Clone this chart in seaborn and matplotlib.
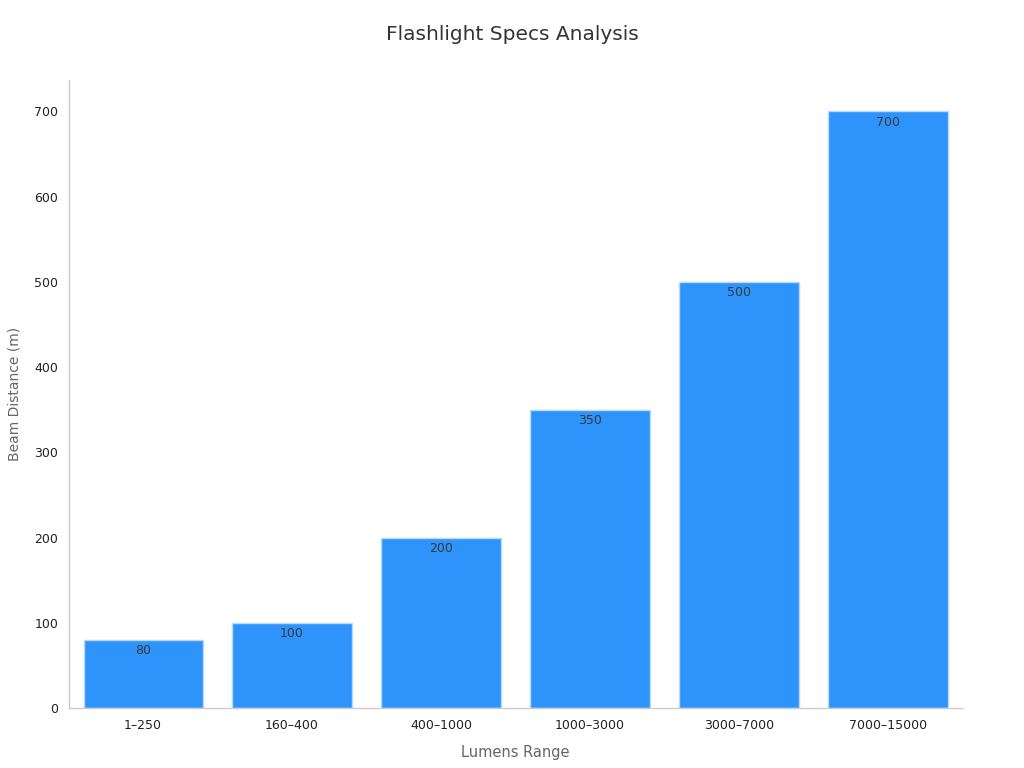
import matplotlib
matplotlib.use("Agg")
import matplotlib.pyplot as plt
import seaborn as sns
import pandas as pd

categories = ["1–250", "160–400", "400–1000", "1000–3000", "3000–7000", "7000–15000"]
beam_distance = [80, 100, 200, 350, 500, 700]

sns.set_theme(style="white")
plt.rcParams['font.family'] = ['DejaVu Sans']

df = pd.DataFrame({"Lumens Range": categories, "Beam Distance (m)": beam_distance})

fig = plt.figure(figsize=(10.24, 7.68), dpi=100)
ax = fig.add_axes([0.067, 0.078, 0.873, 0.818])
sns.barplot(data=df, x="Lumens Range", y="Beam Distance (m)", color="#2E93FA",
            saturation=1, width=0.8, edgecolor="#B5DAFB", linewidth=1, ax=ax)

for i, v in enumerate(beam_distance):
    ax.annotate(f"{v}", (i, v), xytext=(0, -3), textcoords="offset points",
                ha="center", va="top", fontsize=9, color="#3A3A3A")

ax.set_xlim(-0.5, 5.5)
ax.set_ylim(0, 737)
ax.set_yticks([0, 100, 200, 300, 400, 500, 600, 700])
ax.tick_params(axis="both", labelsize=9, colors="#222222", length=4, width=1)
ax.tick_params(axis="both", color="#888888")
for s in ["top", "right"]:
    ax.spines[s].set_visible(False)
for s in ["left", "bottom"]:
    ax.spines[s].set_color("#CCCCCC")
    ax.spines[s].set_linewidth(1)
ax.set_xlabel("Lumens Range", fontsize=10.5, color="#666666", labelpad=10)
ax.set_ylabel("Beam Distance (m)", fontsize=10, color="#666666", labelpad=9)
fig.suptitle("Flashlight Specs Analysis", fontsize=14.5, color="#333333", y=0.968)

fig.savefig("out.png", dpi=100)
